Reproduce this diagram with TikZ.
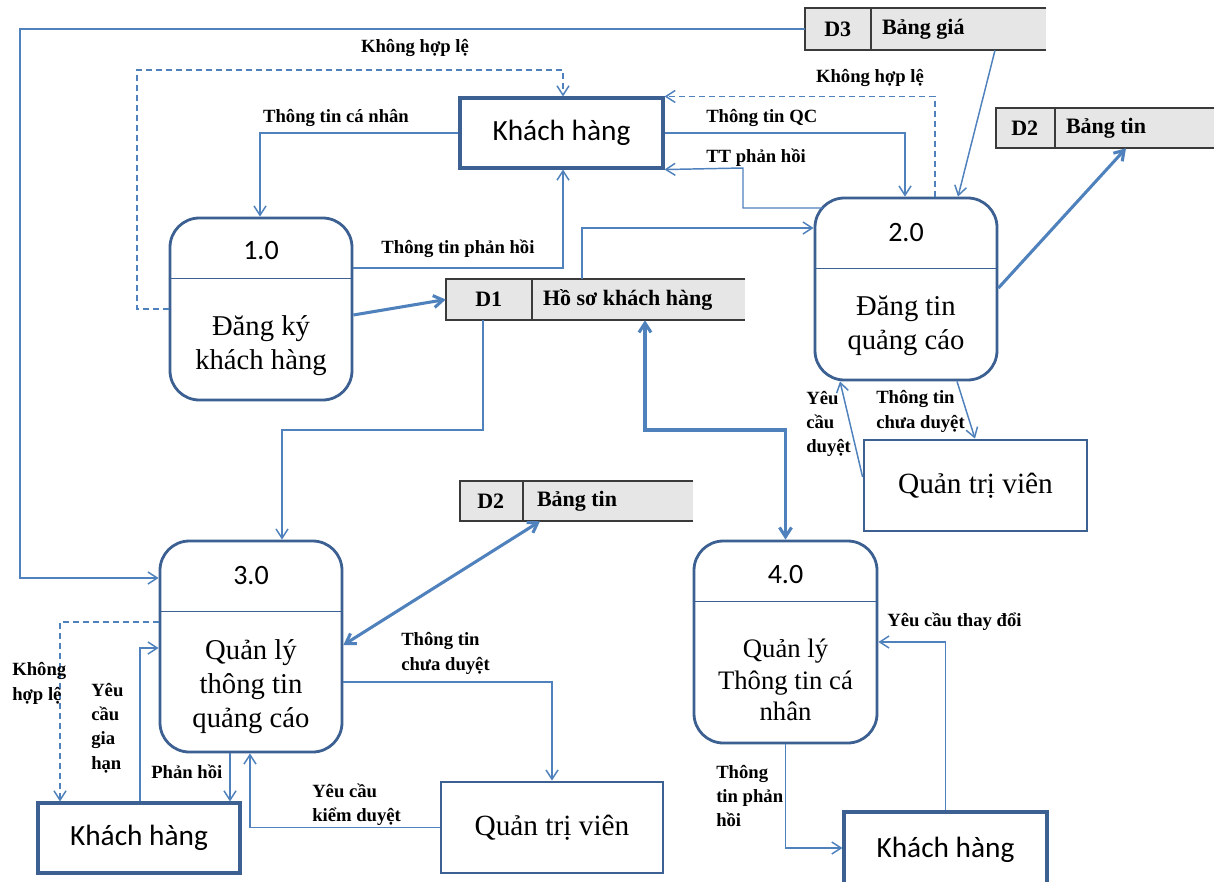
\documentclass[tikz,border=0pt]{standalone}
\usepackage{fontspec}
\setmainfont{Liberation Serif}
\newfontfamily\calibrifont{Carlito}
\usetikzlibrary{arrows.meta}

\definecolor{flow}{HTML}{4F81BD}
\definecolor{edgeblue}{HTML}{3B6091}
\definecolor{storefill}{HTML}{E6E6E6}
\definecolor{storeline}{HTML}{3A3A3A}

\tikzset{
  tip/.tip={Straight Barb[length=7pt,width=9pt]},
  flowline/.style={draw=flow, line width=1.1pt, -tip},
  thickflow/.style={draw=flow, line width=2.3pt, -tip},
  bothflow/.style={draw=flow, line width=2.3pt, tip-tip},
  dashflow/.style={flowline, dash pattern=on 4.5pt off 3pt},
  proc/.style={draw=edgeblue, line width=2.1pt, rounded corners=22pt, fill=white, inner sep=0pt},
  procnum/.style={font=\calibrifont\fontsize{21}{25}\selectfont, inner sep=0pt},
  proctext/.style={font=\fontsize{21.5}{25.5}\selectfont, align=center, inner sep=0pt},
  entity/.style={draw=edgeblue, line width=2.3pt, fill=white, inner sep=0pt,
    font=\calibrifont\fontsize{22}{26}\selectfont},
  admin/.style={draw=edgeblue, line width=2.1pt, fill=white, inner sep=0pt,
    font=\fontsize{22}{26}\selectfont},
  store/.style={fill=storefill, inner sep=0pt},
  storeedge/.style={draw=storeline, line width=1.2pt},
  storetext/.style={font=\bfseries\fontsize{16.5}{19}\selectfont, inner sep=0pt},
  lbl/.style={font=\bfseries\fontsize{14}{18.3}\selectfont, inner sep=0pt, align=left},
}

\begin{document}
\begin{tikzpicture}[x=0.75pt,y=-0.75pt]
\fill[white] (0,0) rectangle (1218,882);
\useasboundingbox (0,0) rectangle (1218,882);

% ---------- data stores ----------
\node[store, minimum width=180.75pt, minimum height=31.5pt] (d3) at (925.5,29) {};
\draw[storeedge] (d3.north east) -- (d3.north west) -- (d3.south west) -- (d3.south east);
\draw[storeedge] ([xshift=49.5pt]d3.north west) -- ([xshift=49.5pt]d3.south west);
\node[storetext] at ([xshift=24.75pt]d3.west) {D3};
\node[storetext, anchor=west] at ([xshift=57.75pt]d3.west) {Bảng giá};

\node[store, minimum width=163.5pt, minimum height=30pt] (d2a) at (1105,128) {};
\draw[storeedge] (d2a.north east) -- (d2a.north west) -- (d2a.south west) -- (d2a.south east);
\draw[storeedge] ([xshift=44.25pt]d2a.north west) -- ([xshift=44.25pt]d2a.south west);
\node[storetext] at ([xshift=21.75pt]d2a.west) {D2};
\node[storetext, anchor=west] at ([xshift=52.5pt]d2a.west) {Bảng tin};

\node[store, minimum width=224.25pt, minimum height=30.75pt] (d1) at (595.5,299.5) {};
\draw[storeedge] (d1.north east) -- (d1.north west) -- (d1.south west) -- (d1.south east);
\draw[storeedge] ([xshift=64.5pt]d1.north west) -- ([xshift=64.5pt]d1.south west);
\node[storetext] at ([xshift=32.25pt]d1.west) {D1};
\node[storetext, anchor=west] at ([xshift=72.75pt]d1.west) {Hồ sơ khách hàng};

\node[store, minimum width=174.75pt, minimum height=30pt] (d2b) at (576.5,501) {};
\draw[storeedge] (d2b.north east) -- (d2b.north west) -- (d2b.south west) -- (d2b.south east);
\draw[storeedge] ([xshift=47.25pt]d2b.north west) -- ([xshift=47.25pt]d2b.south west);
\node[storetext] at ([xshift=23.25pt]d2b.west) {D2};
\node[storetext, anchor=west] at ([xshift=57.75pt]d2b.west) {Bảng tin};

% ---------- processes ----------
\node[proc, minimum width=136.5pt, minimum height=136.5pt] (p1) at (261,309) {};
\draw[draw=edgeblue, line width=1.1pt] ([yshift=-46.5pt]p1.north west) -- ([yshift=-46.5pt]p1.north east);
\node[procnum] at (261,251) {1.0};
\node[proctext] at (261,346) {Đăng ký\\khách hàng};

\node[proc, minimum width=136.5pt, minimum height=136.5pt] (p2) at (906,289) {};
\draw[draw=edgeblue, line width=1.1pt] ([yshift=-54pt]p2.north west) -- ([yshift=-54pt]p2.north east);
\node[procnum] at (906,233) {2.0};
\node[proctext] at (906,326) {Đăng tin\\quảng cáo};

\node[proc, minimum width=136.5pt, minimum height=158.25pt] (p3) at (251,646.5) {};
\draw[draw=edgeblue, line width=1.1pt] ([yshift=-54pt]p3.north west) -- ([yshift=-54pt]p3.north east);
\node[procnum] at (251,576) {3.0};
\node[proctext] at (251,687) {Quản lý\\thông tin\\quảng cáo};

\node[proc, minimum width=137.25pt, minimum height=151.5pt] (p4) at (785.5,642) {};
\draw[draw=edgeblue, line width=1.1pt] ([yshift=-46.5pt]p4.north west) -- ([yshift=-46.5pt]p4.north east);
\node[procnum] at (785.5,575) {4.0};
\node[proctext, font=\fontsize{20}{23.5}\selectfont] at (785.5,680) {Quản lý\\Thông tin cá\\nhân};

% ---------- external entities ----------
\node[entity, minimum width=152.25pt, minimum height=52.5pt] (kh1) at (561.5,133) {Khách hàng};
\node[admin, minimum width=167.25pt, minimum height=68.25pt] (qt1) at (975.5,485.5) {Quản trị viên};
\node[entity, minimum width=151.5pt, minimum height=52.5pt] (kh2) at (139,838) {Khách hàng};
\node[admin, minimum width=166.5pt, minimum height=68.25pt] (qt2) at (552,827.5) {Quản trị viên};
\node[entity, minimum width=152.25pt, minimum height=56.25pt] (kh3) at (945.5,849.5) {Khách hàng};

% ---------- helper coordinates for bends ----------
\coordinate (cA) at (20,578);
\coordinate (cB) at (137,70);
\coordinate (x563) at (563,0);
\coordinate (x260) at (260,0);
\coordinate (y268) at (0,268);
\coordinate (y315) at (0,315);
\coordinate (x582) at (582,0);
\coordinate (y228) at (0,228);
\coordinate (x905) at (905,0);
\coordinate (t1) at (823,208);
\coordinate (t2) at (743,168);
\coordinate (x935) at (935,0);
\coordinate (x995) at (995,0);
\coordinate (x958) at (958,0);
\coordinate (y288) at (0,288);
\coordinate (x1126) at (1126,0);
\coordinate (x957) at (957,0);
\coordinate (x975) at (975,0);
\coordinate (y477) at (0,477);
\coordinate (x840) at (840,0);
\coordinate (m1) at (645,430);
\coordinate (m2) at (483,430);
\coordinate (x282) at (282,0);
\coordinate (x540) at (540,0);
\coordinate (y645) at (0,645);
\coordinate (m3) at (60,622);
\coordinate (m4) at (140,648);
\coordinate (m5) at (230,0);
\coordinate (m6) at (250,827);
\coordinate (m7) at (552,682);
\coordinate (y848) at (0,848);
\coordinate (y642) at (0,642);

% ---------- flows ----------
\draw[flowline] (d3.west) -| (cA) -- (p3.west |- cA);
\draw[dashflow] (p1.west) -| (cB) -| (kh1.north -| x563);
\draw[flowline] (kh1.west) -| (p1.north -| x260);
\draw[flowline] (p1.east |- y268) -| (kh1.south -| x563);
\draw[thickflow] (p1.east |- y315) -- (d1.west);
\draw[flowline] (d1.north -| x582) |- (p2.west |- y228);
\draw[flowline] (kh1.east) -| (p2.north -| x905);
\draw[flowline] (t1) -| (t2) -- (kh1.south east);
\draw[dashflow] (p2.north -| x935) |- (kh1.north east);
\draw[flowline] (d3.south -| x995) -- (p2.north -| x958);
\draw[thickflow] (p2.east |- y288) -- (d2a.south -| x1126);
\draw[flowline] (p2.south -| x957) -- (qt1.north -| x975);
\draw[flowline] (qt1.west |- y477) -- (p2.south -| x840);
\draw[bothflow] (d1.south -| m1) -- (m1) -| (p4.north);
\draw[flowline] (d1.south -| m2) -- (m2) -| (p3.north -| x282);
\draw[bothflow] (d2b.south -| x540) -- (p3.east |- y645);
\draw[dashflow] (p3.west |- m3) -| (kh2.north -| m3);
\draw[flowline] (kh2.north -| m4) |- (p3.west |- m4);
\draw[flowline] (p3.south -| m5) -- (kh2.north -| m5);
\draw[flowline] (qt2.west) -| (p3.south -| m6);
\draw[flowline] (p3.east |- m7) -| (qt2.north);
\draw[flowline] (p4.south) |- (kh3.west |- y848);
\draw[flowline] (kh3.north) |- (p4.east |- y642);

% ---------- flow labels ----------
\node[lbl] (l1) at (415,48) {Không hợp lệ};
\node[lbl] (l2) at (336,118) {Thông tin cá nhân};
\node[lbl] (l3) at (458,249) {Thông tin phản hồi};
\node[lbl] (l4) at (870,78) {Không hợp lệ};
\node[lbl, anchor=west] (l5) at (706,118) {Thông tin QC};
\node[lbl, anchor=west] (l6) at (706,158) {TT phản hồi};
\node[lbl, anchor=west] (l7) at (806,424) {Yêu\\cầu\\duyệt};
\node[lbl, anchor=west] (l8) at (876,411.5) {Thông tin\\chưa duyệt};
\node[lbl, anchor=west] (l9) at (401,653.5) {Thông tin\\chưa duyệt};
\node[lbl, anchor=west] (l10) at (12,683.5) {Không\\hợp lệ};
\node[lbl, anchor=west] (l11) at (91,728) {Yêu\\cầu\\gia\\hạn};
\node[lbl, anchor=west] (l12) at (151,772) {Phản hồi};
\node[lbl, anchor=west] (l13) at (312,804.5) {Yêu cầu\\kiểm duyệt};
\node[lbl, anchor=west] (l14) at (887,622) {Yêu cầu thay đổi};
\node[lbl, anchor=west] (l15) at (716,796) {Thông\\tin phản\\hồi};
\end{tikzpicture}
\end{document}
